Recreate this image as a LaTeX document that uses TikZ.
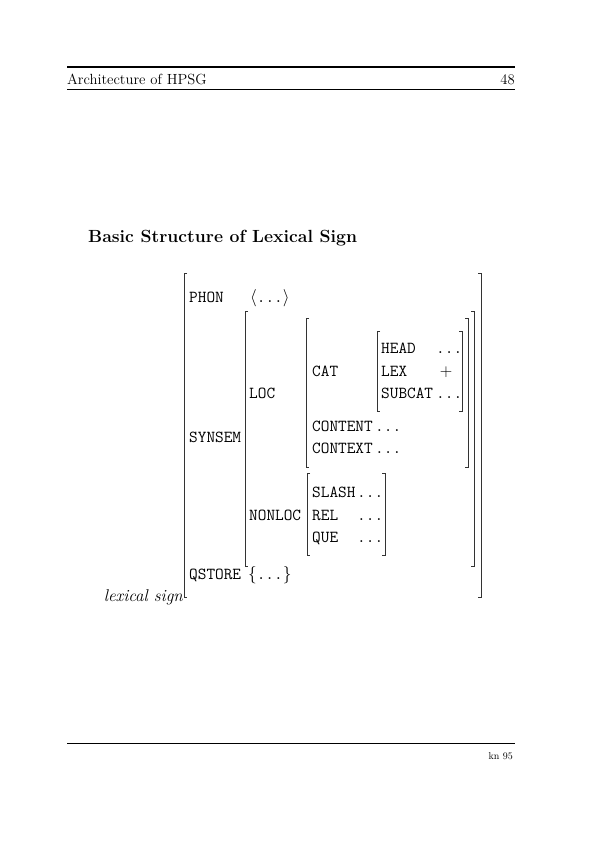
\documentclass[tikz,border=0pt]{standalone}
\begin{document}
\begin{tikzpicture}[x=1pt,y=-1pt]
\tikzset{
  lbl/.style={anchor=base west, inner sep=0pt, font=\fontsize{16.8}{20}\selectfont\ttfamily},
  val/.style={anchor=base west, inner sep=0pt, font=\fontsize{16.8}{20}\selectfont},
  brk/.style={line width=0.5pt, black!80},
  rule/.style={line width=0.5pt},
}
\newcommand\avmpair[4]{%
  \draw[brk] (#1+3,#3) -- (#1,#3) -- (#1,#4) -- (#1+3,#4);
  \draw[brk] (#2-3,#3) -- (#2,#3) -- (#2,#4) -- (#2-3,#4);
}
\newcommand\dts{\texttt{...}}
\useasboundingbox[fill=white] (0,0) rectangle (595,842);
% header
\draw[line width=1.2pt] (67,67) -- (515,67);
\node[anchor=base west, inner sep=0pt, font=\fontsize{14.7}{17}\selectfont] (hdr) at (67,85) {Architecture of HPSG};
\node[anchor=base east, inner sep=0pt, font=\fontsize{14.7}{17}\selectfont] (pg) at (515,85) {48};
\draw[rule] (67,89) -- (515,89);
% title
\node[anchor=base west, inner sep=0pt, font=\fontsize{17.6}{21}\selectfont\bfseries] (title) at (88,242) {Basic Structure of Lexical Sign};
% brackets
\avmpair{184}{481}{273}{597}
\avmpair{245}{474}{311}{566}
\avmpair{306}{468}{318}{467}
\avmpair{377}{462}{331}{411}
\avmpair{307}{385}{473}{555}
% outer level
\node[lbl] (phon) at (189,302) {PHON};
\node[val] (phonv) at (250,302) {$\langle$\dts$\rangle$};
\node[lbl] (synsem) at (189,442) {SYNSEM};
\node[lbl] (qstore) at (189,579) {QSTORE};
\node[val] (qstorev) at (248,579) {$\{$\dts$\}$};
\node[anchor=base east, inner sep=0pt, font=\fontsize{17}{20}\selectfont\itshape] (lex) at (183,601) {lexical sign};
% synsem level
\node[lbl] (loc) at (249,398) {LOC};
\node[lbl] (nonloc) at (249,520) {NONLOC};
% loc level
\node[lbl] (cat) at (312,376) {CAT};
\node[lbl] (content) at (312,431) {CONTENT};
\node[lbl] (contentv) at (375,431) {...};
\node[lbl] (context) at (312,453) {CONTEXT};
\node[lbl] (contextv) at (375,453) {...};
% cat level
\node[lbl] (head) at (381,353) {HEAD};
\node[lbl] (headv) at (436,353) {...};
\node[lbl] (lexf) at (381,376) {LEX};
\node[val, anchor=base] (lexv) at (446,376) {$+$};
\node[lbl] (subcat) at (381,398) {SUBCAT};
\node[lbl] (subcatv) at (436,398) {...};
% nonloc level
\node[lbl] (slash) at (312,497) {SLASH};
\node[lbl] (slashv) at (357,497) {...};
\node[lbl] (rel) at (312,520) {REL};
\node[lbl] (relv) at (357,520) {...};
\node[lbl] (que) at (312,542) {QUE};
\node[lbl] (quev) at (357,542) {...};
% footer
\draw[rule] (67,743) -- (515,743);
\node[anchor=base east, inner sep=0pt, font=\fontsize{10}{12}\selectfont] (foot) at (513,759) {kn 95};
\end{tikzpicture}
\end{document}
